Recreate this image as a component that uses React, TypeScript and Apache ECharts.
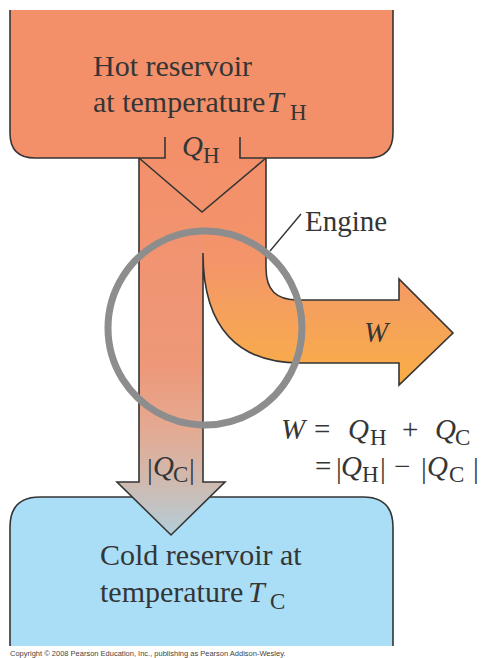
import React, { useEffect, useRef } from "react";
import * as echarts from "echarts";

// ---- texts of the diagram ----
const hotLines = ["Hot reservoir", "at temperature"];
const coldLines = ["Cold reservoir at", "temperature"];
const engineLabel = "Engine";
const workSymbol = "W";
const heatSymbol = "Q";
const hotSub = "H";
const coldSub = "C";
const copyright = "Copyright \u00A9 2008 Pearson Education, Inc., publishing as Pearson Addison-Wesley.";
const eqLine1 = ["W", "=", "Q", "H", "+", "Q", "C"];
const eqLine2 = ["=", "|", "Q", "H", "|", "\u2212", "|", "Q", "C", "|"];

// ---- colours ----
const HOT = "#F3906A";
const COLD = "#A9DEF6";
const INK = "#353535";
const RING = "#8D8D8D";

// ---- outlines (SVG path data) ----
const SHAPES: Record<string, string> = {
  hotFill: "M10,10 L393,10 L393,133 Q393,158 368,158 L35,158 Q10,158 10,133 Z",
  coldFill: "M10,646 L10,527 Q10,497 40,497 L363,497 Q393,497 393,527 L393,646 Z",
  coldFlow: "M139,157 L203,157 L203,482 L225,482 L171,535 L117,482 L139,482 Z",
  workFlow:
    "M202,157 L266,157 L266,268 C266,290 276,300 298,300 L399,300 L399,279 L453,333 L399,385 L399,363 L300,363 C240,363 203,330 203,253 Z",
  hotEdge:
    "M10,10 L10,133 Q10,158 35,158 L165,158 L165,137 M240,137 L240,158 L368,158 Q393,158 393,133 L393,10",
  coldEdge: "M10,646 L10,527 Q10,497 40,497 L363,497 Q393,497 393,527 L393,646",
  flowEdge:
    "M139,158 L139,482 L117,482 L171,535 L225,482 L203,482 L203,253 C203,330 240,363 300,363 L399,363 L399,385 L453,333 L399,279 L399,300 L298,300 C276,300 266,290 266,268 L266,158",
  chevron: "M139,158 L202,212 L266,158",
};
Object.keys(SHAPES).forEach((k) => {
  echarts.graphic.registerShape(k, echarts.graphic.extendPath(SHAPES[k], {}) as any);
});

const SERIF = "'Liberation Serif', 'Times New Roman', serif";

function txt(text: string, x: number, baseline: number, size: number, italic = false, fill = INK, family = SERIF) {
  return {
    type: "text",
    x,
    y: baseline - 0.3375 * size,
    z: 10,
    silent: true,
    style: {
      text,
      fontSize: size,
      fontFamily: family,
      fontStyle: italic ? "italic" : "normal",
      fill,
      align: "left",
      verticalAlign: "middle",
    },
  };
}

function shape(type: string, style: any, z = 1) {
  return { type, x: 0, y: 0, z, silent: true, style };
}

export default function App() {
  const ref = useRef<HTMLDivElement>(null);
  useEffect(() => {
    if (!ref.current) return;
    const chart = echarts.init(ref.current, undefined, { renderer: "svg" });
    const M = 29; // main size
    const S = 23; // subscript size
    const coldGrad = new echarts.graphic.LinearGradient(0, 0, 0, 1, [
      { offset: 0, color: HOT },
      { offset: 0.55, color: "#EE9878" },
      { offset: 0.72, color: "#E4AA92" },
      { offset: 0.86, color: "#CFBAB0" },
      { offset: 1, color: "#B3CDD8" },
    ]);
    const workGrad = new echarts.graphic.LinearGradient(0, 0, 0, 1, [
      { offset: 0, color: HOT },
      { offset: 0.45, color: "#F3946A" },
      { offset: 0.62, color: "#F59E60" },
      { offset: 1, color: "#F9AE46" },
    ]);
    const elements: any[] = [
      shape("coldFill", { fill: COLD, stroke: "none" }, 1),
      shape("coldEdge", { fill: "none", stroke: INK, lineWidth: 1.6 }, 2),
      shape("hotFill", { fill: HOT, stroke: "none" }, 3),
      shape("coldFlow", { fill: coldGrad, stroke: "none" }, 4),
      shape("workFlow", { fill: workGrad, stroke: "none" }, 4),
      shape("hotEdge", { fill: "none", stroke: INK, lineWidth: 1.6 }, 5),
      shape("flowEdge", { fill: "none", stroke: INK, lineWidth: 1.6, lineJoin: "miter" }, 5),
      shape("chevron", { fill: "none", stroke: INK, lineWidth: 1.6 }, 5),
      {
        type: "circle",
        z: 6,
        silent: true,
        shape: { cx: 205, cy: 328, r: 97 },
        style: { fill: "none", stroke: RING, lineWidth: 7 },
      },
      {
        type: "line",
        z: 6,
        silent: true,
        shape: { x1: 270, y1: 251, x2: 301, y2: 214 },
        style: { stroke: INK, lineWidth: 1.4 },
      },
      // hot reservoir label
      txt(hotLines[0], 93, 76, 30),
      txt(hotLines[1], 93, 112, 30),
      txt("T", 267, 112, 30, true),
      txt(hotSub, 290, 120, S),
      // Q_H
      txt(heatSymbol, 182, 156, M, true),
      txt(hotSub, 203, 163, S),
      // engine
      txt(engineLabel, 305, 231, M),
      // W in arrow
      txt(workSymbol, 364, 342, M, true),
      // equation line 1
      txt(eqLine1[0], 281, 439, M, true),
      txt(eqLine1[1], 314, 439, M),
      txt(eqLine1[2], 348, 439, M, true),
      txt(eqLine1[3], 370, 445, S),
      txt(eqLine1[4], 402, 439, M),
      txt(eqLine1[5], 435, 439, M, true),
      txt(eqLine1[6], 455, 445, S),
      // equation line 2
      txt(eqLine2[0], 315, 476, M),
      txt(eqLine2[1], 336, 478, M),
      txt(eqLine2[2], 341, 476, M, true),
      txt(eqLine2[3], 362, 482, S),
      txt(eqLine2[4], 380, 478, M),
      txt(eqLine2[5], 394, 476, M),
      txt(eqLine2[6], 421, 478, M),
      txt(eqLine2[7], 427, 476, M, true),
      txt(eqLine2[8], 449, 482, S),
      txt(eqLine2[9], 473, 478, M),
      // |Q_C|
      txt("|", 147, 479, M),
      txt(heatSymbol, 153, 476, M, true),
      txt(coldSub, 173, 482, S),
      txt("|", 189, 479, M),
      // cold reservoir label
      txt(coldLines[0], 100, 565, 30),
      txt(coldLines[1], 100, 602, 30),
      txt("T", 248, 602, 30, true),
      txt(coldSub, 270, 609, S),
      // copyright
      txt(copyright, 10, 656, 7.5, false, "#444444", "'Liberation Sans', Arial, sans-serif"),
    ];
    chart.setOption({
      animation: false,
      backgroundColor: "#ffffff",
      graphic: { elements },
    });
    return () => chart.dispose();
  }, []);
  return (
    <div
      ref={ref}
      style={{ position: "fixed", left: 0, top: 0, width: 482, height: 658 }}
    />
  );
}
